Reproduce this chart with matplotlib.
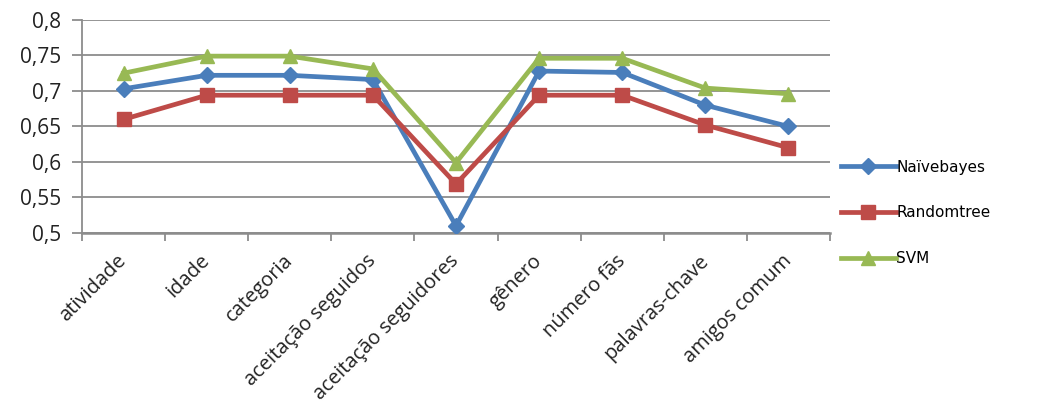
import matplotlib
matplotlib.use("Agg")
import matplotlib.pyplot as plt
from matplotlib.ticker import FuncFormatter, MultipleLocator

categories = ["atividade", "idade", "categoria", "aceitação seguidos",
              "aceitação seguidores", "gênero", "número fãs",
              "palavras-chave", "amigos comum"]
naivebayes = [0.703, 0.722, 0.722, 0.716, 0.510, 0.728, 0.726, 0.680, 0.650]
randomtree = [0.660, 0.694, 0.694, 0.694, 0.569, 0.694, 0.694, 0.652, 0.620]
svm = [0.725, 0.749, 0.749, 0.731, 0.599, 0.746, 0.746, 0.704, 0.696]
series_names = ["Naïvebayes", "Randomtree", "SVM"]

plt.rcParams['font.family'] = ['Open Sans', 'DejaVu Sans']

fig = plt.figure(figsize=(10.56, 4.15), dpi=100)
ax = fig.add_axes([0.0777, 0.4386, 0.7083, 0.5134])

x = list(range(len(categories)))
colors = ["#4A7EBB", "#BE4B48", "#98B954"]
markers = ["D", "s", "^"]
msizes = [8.5, 10, 10.5]
lines = []
for vals, name, c, m, ms in zip([naivebayes, randomtree, svm], series_names, colors, markers, msizes):
    ln, = ax.plot(x, vals, color=c, lw=3.4, marker=m, ms=ms, label=name, zorder=3)
    lines.append(ln)

ax.set_xlim(-0.5, len(categories) - 0.5)
ax.set_ylim(0.5, 0.8)
ax.yaxis.set_major_locator(MultipleLocator(0.05))
ax.yaxis.set_major_formatter(FuncFormatter(lambda v, p: f"{v:.2f}".rstrip('0').rstrip('.').replace('.', ',')))
ax.grid(axis='y', color='#8c8c8c', lw=1.3)
ax.set_axisbelow(True)
for s in ['top', 'right']:
    ax.spines[s].set_visible(False)
ax.spines['left'].set_color('#8c8c8c')
ax.spines['bottom'].set_color('#8c8c8c')
ax.spines['left'].set_linewidth(1.3)
ax.spines['bottom'].set_linewidth(1.8)

ax.set_xticks([i - 0.5 for i in range(len(categories) + 1)], minor=False)
ax.set_xticklabels([])
ax.tick_params(axis='x', which='major', length=6, color='#8c8c8c', width=1.3)
ax.set_xticks(x, minor=True)
ax.set_xticklabels(categories, minor=True, rotation=45, ha='right', va='center',
                   rotation_mode='anchor', fontsize=14.5, color='#222222')
ax.tick_params(axis='x', which='minor', length=0, pad=18)
ax.tick_params(axis='y', length=7, color='#8c8c8c', width=1.3, labelsize=15, pad=8,
               labelcolor='#222222')

fig.legend(handles=lines, loc='center left', bbox_to_anchor=(0.786, 0.487),
           frameon=False, prop={'family': 'DejaVu Sans', 'size': 11},
           handlelength=3.6, labelspacing=2.0, handletextpad=0.05, borderpad=0.2)

fig.savefig("out.png", dpi=100)
